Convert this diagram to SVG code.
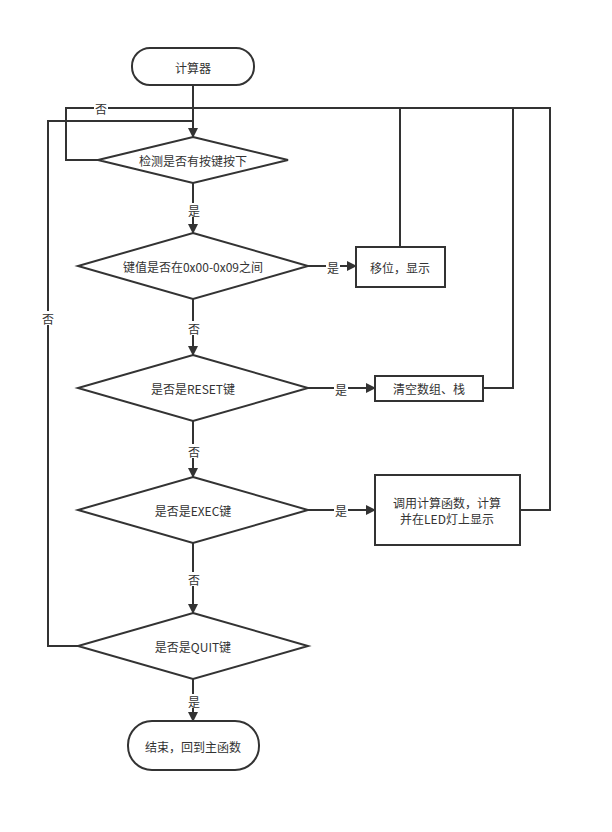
<svg xmlns="http://www.w3.org/2000/svg" width="612" height="832" viewBox="0 0 612 832">
<style>
.s{fill:#fff;stroke:#333;stroke-width:2}
.l{fill:none;stroke:#333;stroke-width:2}
text{font-family:"Noto Sans CJK SC","Liberation Sans",sans-serif;font-size:12px;fill:#333;text-anchor:middle;dominant-baseline:central}
.lb{fill:#fff;stroke:none}
</style>
<defs><marker id="a" markerWidth="10" markerHeight="10" refX="9" refY="5" orient="auto" markerUnits="userSpaceOnUse"><path d="M0,0L10,5L0,10z" fill="#333"/></marker></defs>
<rect width="612" height="832" fill="#fff"/>
<g id="connectors">
<path class="l" d="M193,85V137" marker-end="url(#a)"/>
<path class="l" d="M98,160H66V108H550V510H520"/>
<path class="l" d="M400,247V108"/>
<path class="l" d="M483,388H513V108"/>
<path class="l" d="M78,646H48V121H193"/>
<path class="l" d="M193,183V233" marker-end="url(#a)"/>
<path class="l" d="M193,299V355" marker-end="url(#a)"/>
<path class="l" d="M193,421V477" marker-end="url(#a)"/>
<path class="l" d="M193,543V613" marker-end="url(#a)"/>
<path class="l" d="M193,679V721" marker-end="url(#a)"/>
<path class="l" d="M308,266H356" marker-end="url(#a)"/>
<path class="l" d="M308,388H375" marker-end="url(#a)"/>
<path class="l" d="M308,510H375" marker-end="url(#a)"/>
<rect class="lb" x="94" y="101" width="14" height="14"/><text x="101" y="108">否</text>
<rect class="lb" x="41" y="311" width="14" height="14"/><text x="48" y="318">否</text>
<rect class="lb" x="187" y="203" width="14" height="14"/><text x="194" y="210">是</text>
<rect class="lb" x="187" y="321" width="14" height="14"/><text x="194" y="328">否</text>
<rect class="lb" x="187" y="444" width="14" height="14"/><text x="194" y="451">否</text>
<rect class="lb" x="187" y="572" width="14" height="14"/><text x="194" y="579">否</text>
<rect class="lb" x="187" y="694" width="14" height="14"/><text x="194" y="701">是</text>
<rect class="lb" x="326" y="260" width="14" height="14"/><text x="333" y="267">是</text>
<rect class="lb" x="334" y="382" width="14" height="14"/><text x="341" y="389">是</text>
<rect class="lb" x="334" y="503" width="14" height="14"/><text x="341" y="510">是</text>
</g>
<g id="start"><rect class="s" x="132" y="48" width="122" height="37" rx="18"/><text x="193" y="67">计算器</text></g>
<g id="d1"><path class="s" d="M193,137L288,160L193,183L98,160z"/><text x="193" y="160">检测是否有按键按下</text></g>
<g id="d2"><path class="s" d="M193,233L308,266L193,299L78,266z"/><text x="193" y="266">键值是否在0x00-0x09之间</text></g>
<g id="b1"><rect class="s" x="356" y="247" width="89" height="40"/><text x="400" y="267">移位，显示</text></g>
<g id="d3"><path class="s" d="M193,355L308,388L193,421L78,388z"/><text x="193" y="388">是否是RESET键</text></g>
<g id="b2"><rect class="s" x="375" y="376" width="108" height="25"/><text x="429" y="388">清空数组、栈</text></g>
<g id="d4"><path class="s" d="M193,477L308,510L193,543L78,510z"/><text x="193" y="510">是否是EXEC键</text></g>
<g id="b3"><rect class="s" x="375" y="475" width="145" height="70"/><text x="447" y="502">调用计算函数，计算</text><text x="447" y="518">并在LED灯上显示</text></g>
<g id="d5"><path class="s" d="M193,613L308,646L193,679L78,646z"/><text x="193" y="646">是否是QUIT键</text></g>
<g id="end"><rect class="s" x="128" y="721" width="131" height="49" rx="24"/><text x="193" y="746">结束，回到主函数</text></g>
</svg>
